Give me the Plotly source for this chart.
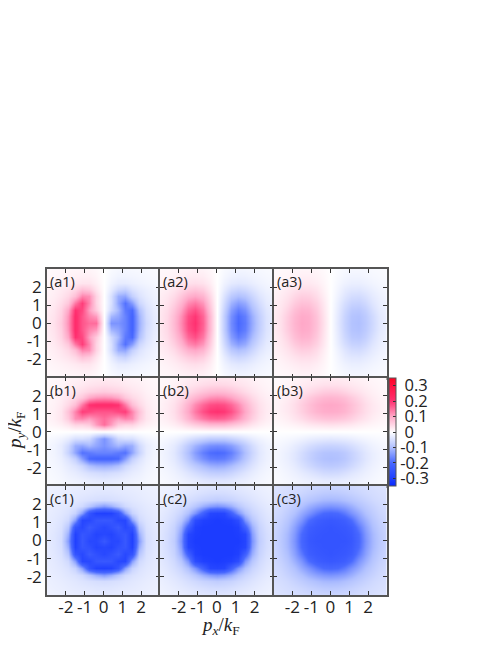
import numpy as np
import plotly.graph_objects as go

# |p| sample points of one quadrant, in units of k_F
p_abs = [0, 0.375, 0.75, 1.125, 1.5, 1.875, 2.25, 2.625, 3.0]
ticks = [-2, -1, 0, 1, 2]
tick_text = ["-2", "-1", "0", "1", "2"]
cbar_vals = [0.3, 0.2, 0.1, 0, -0.1, -0.2, -0.3]
# nbsp keeps the digits lined up with the ones behind a minus sign
cbar_text = ["\u00a00.3", "\u00a00.2", "\u00a00.1", "\u00a00", "-0.1", "-0.2", "-0.3"]

# values, rows are |py|, columns are |px|
a1 = [[0, .15, .15, .17, .21, .12, .06, .035, .022],
      [0, .11, .13, .17, .21, .115, .055, .033, .022],
      [0, .06, .11, .18, .20, .10, .05, .03, .02],
      [0, .05, .13, .19, .14, .065, .04, .025, .018],
      [0, .05, .12, .13, .075, .045, .03, .021, .015],
      [0, .03, .06, .07, .045, .032, .024, .018, .013],
      [0, .018, .03, .03, .025, .02, .016, .013, .01],
      [0, .012, .018, .018, .016, .014, .012, .01, .008],
      [0, .008, .012, .012, .011, .01, .009, .008, .006]]
a2 = [[0, .08, .16, .20, .18, .125, .08, .045, .028],
      [0, .08, .155, .195, .175, .12, .077, .044, .028],
      [0, .07, .14, .175, .155, .105, .068, .04, .026],
      [0, .058, .115, .14, .125, .085, .055, .033, .023],
      [0, .045, .085, .10, .09, .065, .042, .028, .02],
      [0, .03, .055, .065, .058, .044, .03, .021, .016],
      [0, .02, .033, .038, .035, .028, .021, .016, .012],
      [0, .013, .021, .024, .023, .019, .015, .012, .01],
      [0, .009, .014, .016, .015, .013, .011, .009, .008]]
a3 = [[0, .035, .07, .095, .10, .085, .06, .035, .022],
      [0, .033, .068, .093, .097, .082, .058, .034, .022],
      [0, .03, .062, .085, .088, .074, .05, .03, .02],
      [0, .026, .052, .07, .072, .06, .04, .026, .018],
      [0, .02, .04, .054, .056, .046, .032, .022, .015],
      [0, .015, .03, .038, .039, .032, .024, .017, .012],
      [0, .011, .02, .026, .026, .022, .017, .013, .01],
      [0, .008, .014, .018, .018, .015, .012, .01, .008],
      [0, .006, .01, .012, .012, .011, .009, .008, .006]]
b1 = [[0, 0, 0, 0, 0, 0, 0, 0, 0],
      [.15, .11, .06, .05, .05, .03, .018, .012, .008],
      [.15, .13, .11, .13, .12, .06, .03, .018, .012],
      [.17, .17, .18, .19, .13, .07, .03, .018, .012],
      [.21, .21, .20, .14, .075, .045, .025, .016, .011],
      [.12, .115, .10, .065, .045, .032, .02, .014, .01],
      [.06, .055, .05, .04, .03, .024, .016, .012, .009],
      [.035, .033, .03, .025, .021, .018, .013, .01, .008],
      [.022, .022, .02, .018, .015, .013, .01, .008, .006]]
b2 = [[0, 0, 0, 0, 0, 0, 0, 0, 0],
      [.08, .08, .07, .058, .045, .03, .02, .013, .009],
      [.16, .155, .14, .115, .085, .055, .033, .021, .014],
      [.20, .195, .175, .14, .10, .065, .038, .024, .016],
      [.18, .175, .155, .125, .09, .058, .035, .023, .015],
      [.125, .12, .105, .085, .065, .044, .028, .019, .013],
      [.08, .077, .068, .055, .042, .03, .021, .015, .011],
      [.045, .044, .04, .033, .028, .021, .016, .012, .009],
      [.028, .028, .026, .023, .02, .016, .012, .01, .008]]
b3 = [[0, 0, 0, 0, 0, 0, 0, 0, 0],
      [.035, .033, .03, .026, .02, .015, .011, .008, .006],
      [.07, .068, .062, .052, .04, .03, .02, .014, .01],
      [.095, .093, .085, .07, .054, .038, .026, .018, .012],
      [.10, .097, .088, .072, .056, .039, .026, .018, .012],
      [.085, .082, .074, .06, .046, .032, .022, .015, .011],
      [.06, .058, .05, .04, .032, .024, .017, .012, .009],
      [.035, .034, .03, .026, .022, .017, .013, .01, .008],
      [.022, .022, .02, .018, .015, .012, .01, .008, .006]]
c1 = [[-.24, -.28, -.28, -.24, -.30, -.14, -.055, -.04, -.033],
      [-.28, -.29, -.26, -.245, -.295, -.12, -.052, -.04, -.032],
      [-.28, -.26, -.235, -.28, -.25, -.09, -.048, -.037, -.031],
      [-.24, -.245, -.28, -.285, -.14, -.06, -.043, -.035, -.03],
      [-.30, -.295, -.25, -.14, -.07, -.047, -.038, -.033, -.028],
      [-.14, -.12, -.09, -.06, -.047, -.04, -.034, -.03, -.026],
      [-.055, -.052, -.048, -.043, -.038, -.034, -.03, -.027, -.024],
      [-.04, -.04, -.037, -.035, -.033, -.03, -.027, -.025, -.022],
      [-.033, -.033, -.031, -.03, -.028, -.026, -.024, -.022, -.02]]
c2 = [[-.31, -.31, -.31, -.31, -.29, -.15, -.08, -.055, -.04],
      [-.31, -.31, -.31, -.305, -.285, -.14, -.075, -.054, -.04],
      [-.31, -.31, -.31, -.30, -.22, -.12, -.07, -.05, -.038],
      [-.31, -.305, -.30, -.27, -.15, -.09, -.06, -.045, -.035],
      [-.29, -.285, -.22, -.15, -.10, -.068, -.052, -.04, -.032],
      [-.15, -.14, -.12, -.09, -.068, -.054, -.043, -.035, -.028],
      [-.08, -.075, -.07, -.06, -.052, -.043, -.036, -.03, -.025],
      [-.055, -.054, -.05, -.045, -.04, -.035, -.03, -.026, -.022],
      [-.04, -.04, -.038, -.035, -.032, -.028, -.025, -.022, -.02]]
c3 = [[-.25, -.25, -.25, -.24, -.205, -.15, -.11, -.085, -.066],
      [-.25, -.25, -.245, -.235, -.20, -.145, -.108, -.083, -.065],
      [-.25, -.245, -.24, -.225, -.18, -.135, -.10, -.078, -.063],
      [-.24, -.235, -.225, -.195, -.15, -.118, -.09, -.072, -.06],
      [-.205, -.20, -.18, -.15, -.125, -.098, -.08, -.065, -.056],
      [-.15, -.145, -.135, -.118, -.098, -.083, -.07, -.059, -.053],
      [-.11, -.108, -.10, -.09, -.08, -.07, -.06, -.054, -.05],
      [-.085, -.083, -.078, -.072, -.065, -.059, -.054, -.05, -.046],
      [-.066, -.065, -.063, -.06, -.056, -.053, -.05, -.046, -.042]]

# the page body has an 8px margin, so the figure sits 8px in
OFF = 8
W, H = 498 - 2 * OFF, 645 - 2 * OFF
col_px = [(47, 160), (160, 273.5), (273.5, 387)]
row_px = [(269, 377.5), (377.5, 486), (486, 595)]


def fx(px):
    return (px - OFF) / W


def fy(px):
    return 1 - (px - OFF) / H


colors = [[0.0, "#0828ff"], [0.07, "#2040ff"], [0.214, "#4868ff"], [0.357, "#b0c0ff"], [0.5, "#ffffff"],
          [0.643, "#ffa8c8"], [0.786, "#ff3070"], [0.93, "#ff1040"], [1.0, "#ff0020"]]


# quadrant -> full grid, sign depends on which mirror flips the panel
def unfold(q, sx=1, sy=1):
    q = np.array(q)
    top = np.hstack([sx * q[:, :0:-1], q])
    return np.vstack([sy * top[:0:-1], top])


p_full = [-v for v in p_abs[:0:-1]] + p_abs
# the a panels are red on the left, the b panels red on top
panels = [("(a1)", -unfold(a1, sx=-1)), ("(a2)", -unfold(a2, sx=-1)), ("(a3)", -unfold(a3, sx=-1)),
          ("(b1)", unfold(b1, sy=-1)), ("(b2)", unfold(b2, sy=-1)), ("(b3)", unfold(b3, sy=-1)),
          ("(c1)", unfold(c1)), ("(c2)", unfold(c2)), ("(c3)", unfold(c3))]

fig = go.Figure()
tick_font = dict(family="Open Sans", size=17, color="#222222")
annotations = []
for n, (label, z) in enumerate(panels):
    r, c = divmod(n, 3)
    ax = "" if n == 0 else str(n + 1)
    fig.add_trace(go.Heatmap(x=p_full, y=p_full, z=z, coloraxis="coloraxis", zsmooth="best",
                             xaxis="x" + ax, yaxis="y" + ax))
    axis_style = dict(range=[-3, 3], tickmode="array", tickvals=ticks, ticktext=tick_text, ticks="inside",
                      ticklen=4, tickwidth=1.2, tickcolor="#333333", showline=True, linecolor="#555555",
                      linewidth=1.5, mirror="allticks", showgrid=False, zeroline=False, tickfont=tick_font)
    fig.layout["xaxis" + ax] = dict(axis_style, domain=[fx(col_px[c][0]), fx(col_px[c][1])],
                                    anchor="y" + ax, showticklabels=r == 2, ticklabelstandoff=-4)
    fig.layout["yaxis" + ax] = dict(axis_style, domain=[fy(row_px[r][1]), fy(row_px[r][0])],
                                    anchor="x" + ax, showticklabels=c == 0)
    annotations.append(dict(text=label, x=fx(col_px[c][0] + 1), y=fy(row_px[r][0] + 1),
                            xref="paper", yref="paper", xanchor="left", yanchor="top", showarrow=False,
                            font=dict(family="Open Sans", size=14.5, color="#222222")))

title_font = dict(family="Liberation Serif", size=19, color="#222222")
annotations.append(dict(text="<i>p<sub>x</sub></i>/<i>k</i><sub>F</sub>", x=fx(220), y=fy(626),
                        xref="paper", yref="paper", xanchor="center", yanchor="middle",
                        showarrow=False, font=title_font))
annotations.append(dict(text="<i>p<sub>y</sub></i>/<i>k</i><sub>F</sub>", x=fx(16), y=fy(431),
                        xref="paper", yref="paper", xanchor="center", yanchor="middle",
                        showarrow=False, textangle=-90, font=title_font))

fig.update_layout(
    width=W, height=H, margin=dict(l=0, r=0, t=0, b=0), paper_bgcolor="white", plot_bgcolor="white",
    showlegend=False, annotations=annotations,
    coloraxis=dict(cmin=-0.35, cmax=0.35, colorscale=colors,
                   colorbar=dict(x=fx(389), xanchor="left", xpad=0, y=fy(432), yanchor="middle", ypad=0,
                                 lenmode="pixels", len=108, thicknessmode="pixels", thickness=7,
                                 tickmode="array", tickvals=cbar_vals, ticktext=cbar_text, ticks="inside",
                                 ticklen=3, tickcolor="#333333", outlinecolor="#555555", outlinewidth=1,
                                 tickfont=dict(family="Open Sans", size=16.5, color="#222222"))),
)
fig.write_html("out.html", config={"displayModeBar": False})
